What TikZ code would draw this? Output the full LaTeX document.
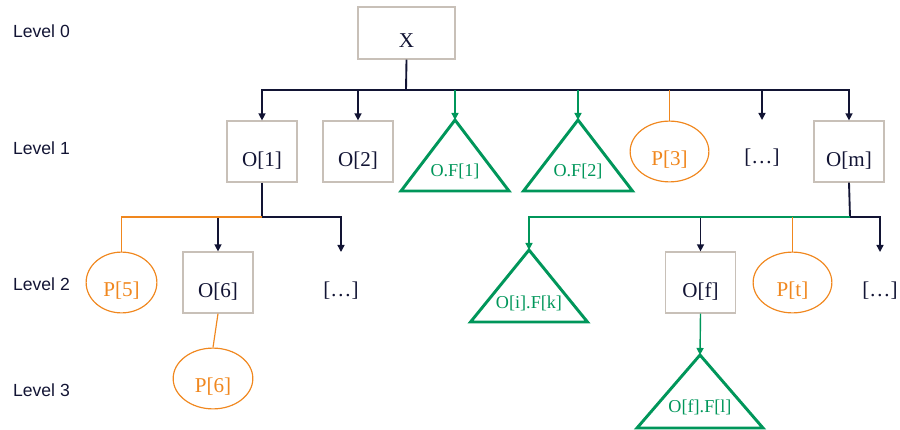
\documentclass[tikz,border=0pt]{standalone}
\usepackage{fontspec}
\setmainfont{Liberation Serif}
\newfontfamily\levelfont{Liberation Sans}
\usetikzlibrary{shapes, arrows.meta}

\definecolor{navy}{RGB}{18,20,52}
\definecolor{leafgreen}{RGB}{0,150,90}
\definecolor{porange}{RGB}{240,135,30}
\definecolor{framegray}{RGB}{200,192,184}

\begin{document}
\begin{tikzpicture}[x=0.03cm, y=-0.03cm,
	lvl/.style={anchor=west, text=navy, font=\levelfont\fontsize{15}{18}\selectfont},
	obj/.style={draw=framegray, line width=1.2pt, minimum width=59.5pt, minimum height=51.9pt, inner sep=2pt, text height=25pt, text depth=0pt, text=navy, font=\fontsize{18}{20}\selectfont},
	prop/.style={ellipse, draw=porange, line width=1pt, minimum width=67.2pt, minimum height=51.9pt, inner sep=1pt, text height=24pt, text depth=0pt, text=porange, font=\fontsize{18}{20}\selectfont},
	more/.style={text=navy, font=\fontsize{18}{20}\selectfont},
	ftext/.style={text=leafgreen, font=\fontsize{15.5}{18}\selectfont},
	fam/.style={draw=leafgreen, line width=2.5pt},
	stem/.style={draw=navy, line width=1.6pt},
	link/.style={draw=navy, line width=1.2pt, -{Triangle[length=6pt,width=6pt]}},
	glink/.style={draw=leafgreen, line width=1.2pt, -{Triangle[length=6pt,width=6pt]}},
	plink/.style={draw=porange, line width=1pt}]
	\useasboundingbox (0,0) rectangle (900,430);

	% level labels
	\node[lvl] (l0) at (9,31) {Level 0};
	\node[lvl] (l1) at (9,148.5) {Level 1};
	\node[lvl] (l2) at (9,284) {Level 2};
	\node[lvl] (l3) at (9,390) {Level 3};

	% level 0
	\node[obj, minimum width=82.5pt, minimum height=44.2pt, text height=24pt] (x) at (406.5,33) {X};
	\coordinate (b0) at (406,90);

	% level 1
	\node[obj] (o1) at (262,151.5) {O[1]};
	\node[obj] (o2) at (358,151.5) {O[2]};
	\coordinate (f1) at (455,120);
	\draw[fam] (f1) -- ++(54,71) -- ++(-108,0) -- cycle;
	\node[ftext] (f1t) at (455,171) {O.F[1]};
	\coordinate (f2) at (578,120);
	\draw[fam] (f2) -- ++(54.5,71) -- ++(-109,0) -- cycle;
	\node[ftext] (f2t) at (578,171) {O.F[2]};
	\node[prop] (p3) at (669.5,151.5) {P[3]};
	\node[more] (d1) at (762,157.5) {[…]};
	\coordinate (d1a) at (762,120);
	\node[obj] (om) at (849,151.5) {O[m]};

	\draw[stem] (x.south) -- (b0);
	\draw[link] (b0) -| (o1.north);
	\draw[link] (b0) -| (o2.north);
	\draw[link] (b0) -| (d1a);
	\draw[link] (b0) -| (om.north);
	\draw[glink] (f1 |- b0) -- (f1);
	\draw[glink] (f2 |- b0) -- (f2);
	\draw[plink] (p3 |- b0) -- (p3.north);

	% level 2, under O[1]
	\coordinate (b1) at (262,217);
	\node[prop, minimum width=60.4pt] (p5) at (121.5,282.5) {P[5]};
	\node[obj] (o6) at (218,282.5) {O[6]};
	\node[more] (d2) at (341,290.5) {[…]};
	\coordinate (d2a) at (341,252);

	\draw[stem] (o1.south) -- (b1);
	\draw[link] (b1) -| (o6.north);
	\draw[link] (b1) -| (d2a);
	\draw[plink] (b1) -| (p5.north);

	% level 2, under O[m]
	\coordinate (b2) at (850,217);
	\coordinate (fik) at (529,250);
	\draw[fam] (fik) -- ++(58.5,72) -- ++(-117,0) -- cycle;
	\node[ftext] (fikt) at (529,303) {O[i].F[k]};
	\node[obj] (of) at (700.5,282.5) {O[f]};
	\node[prop] (pt) at (792.5,282.5) {P[t]};
	\node[more] (d3) at (880,290.5) {[…]};
	\coordinate (d3a) at (880,252);

	\draw[stem] (om.south) -- (b2);
	\draw[link] (b2) -| (of.north);
	\draw[link] (b2) -| (d3a);
	\draw[glink] (b2) -| (fik);
	\draw[plink] (pt |- b2) -- (pt.north);

	% level 3
	\node[prop, minimum width=68pt] (p6) at (213,378.5) {P[6]};
	\coordinate (ffl) at (700,355);
	\draw[fam] (ffl) -- ++(63,73) -- ++(-126,0) -- cycle;
	\node[ftext] (fflt) at (700,407) {O[f].F[l]};

	\draw[plink] (o6.south) -- (p6.north);
	\draw[glink] (of.south) -- (ffl);
\end{tikzpicture}
\end{document}
